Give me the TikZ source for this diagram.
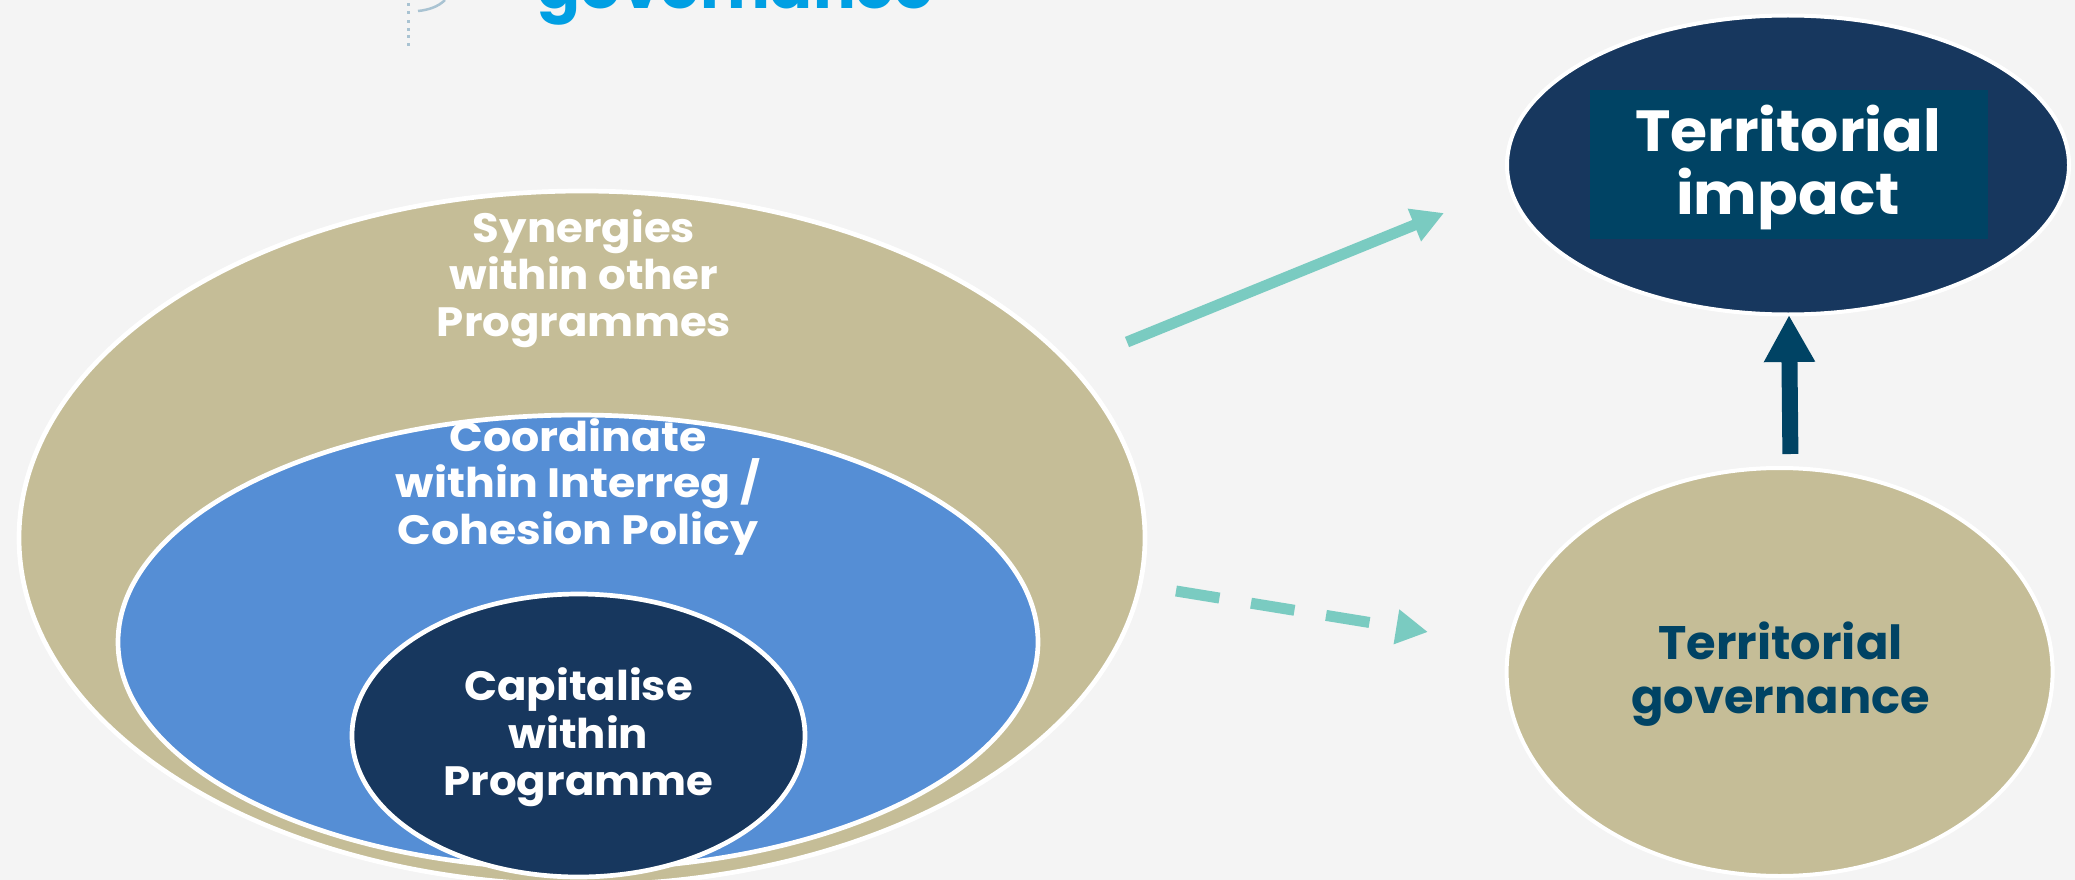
\documentclass[tikz,border=0pt]{standalone}
\usepackage{fontspec}
\setmainfont{Poppins}
\usetikzlibrary{shapes.geometric,arrows.meta}
\definecolor{bgc}{HTML}{F4F4F4}
\definecolor{khaki}{HTML}{C5BD97}
\definecolor{midblue}{HTML}{558ED5}
\definecolor{navy}{HTML}{17375E}
\definecolor{tealarrow}{HTML}{7ACBC1}
\definecolor{deepteal}{HTML}{004364}
\definecolor{logocyan}{HTML}{009FE3}
\definecolor{logofade}{HTML}{A9C3D2}
\newcommand{\labfont}[3]{\bfseries\fontsize{#1}{#2}\selectfont\addfontfeature{FakeStretch=#3}}
\tikzset{
  oval/.style={ellipse,draw=white,line width=4.7pt,inner sep=0pt,outer sep=0pt},
  lab/.style={align=center,inner sep=0pt,outer sep=0pt},
  tealline/.style={draw=tealarrow,line width=11pt,-{Triangle[length=32pt,width=33pt]}},
  darkline/.style={draw=deepteal,line width=16pt,-{Triangle[length=47pt,width=48pt]}},
  faint/.style={fill=logofade,inner sep=0pt,minimum width=3pt,minimum height=3pt}
}
\begin{document}
\begin{tikzpicture}[x=1pt,y=-1pt]
\useasboundingbox (0,0) rectangle (2075,880);
\fill[bgc] (0,0) rectangle (2075,880);
\begin{scope}
\clip (0,0) rectangle (2075,880);
% logo remnants at the top edge
\node[lab,text=logocyan,anchor=base,font=\labfont{61}{64}{1.04}] (logotext) at (735.5,9) {governance};
\node[faint] (f1) at (408,5) {};
\node[faint] (f2) at (408,13) {};
\node[faint] (f3) at (408,22) {};
\node[faint] (f4) at (408,30) {};
\node[faint] (f5) at (408,37) {};
\node[faint] (f6) at (408,45) {};
\draw[logofade,line width=2.5pt] (418,11) .. controls (428,10) and (438,7) .. (445,0);
% nested ellipses
\node[oval,fill=khaki,minimum width=1126pt,minimum height=694pt] (outer) at (582,538) {};
\node[oval,fill=midblue,minimum width=920pt,minimum height=454pt] (mid) at (578,642) {};
\node[oval,fill=navy,minimum width=453pt,minimum height=283pt] (inner) at (578.5,735.5) {};
\end{scope}
\node[oval,line width=4pt,fill=navy,minimum width=562pt,minimum height=299pt] (impact) at (1788,165) {};
\node[oval,line width=4pt,fill=khaki,minimum width=546pt,minimum height=408pt] (gov) at (1779.6,672) {};
\node[fill=deepteal,inner sep=0pt,outer sep=0pt,minimum width=398pt,minimum height=149pt] (impactbox) at (1789,164.5) {};
% labels
\node[lab,text=white,font=\labfont{41}{47}{1.06}] (t1) at (584,279) {Synergies\\within other\\Programmes};
\node[lab,text=white,font=\labfont{41}{46.5}{1.08}] (t2) at (578,487) {Coordinate\\within Interreg /\\Cohesion Policy};
\node[lab,text=white,font=\labfont{41}{47.5}{1.06}] (t3) at (578.5,737.5) {Capitalise\\within\\Programme};
\node[lab,text=white,font=\labfont{58}{63}{1.035}] (t4) at (1788,167.5) {Territorial\\impact};
\node[lab,text=deepteal,font=\labfont{47}{54}{1.02}] (t5) at (1780.5,674.5) {Territorial\\governance};
% connector ends
\coordinate (a1s) at (1127,342);
\coordinate (a1e) at (1444,213);
\coordinate (a2s) at (1176,591);
\coordinate (a2e) at (1428,632);
\coordinate (a3s) at (1790.4,454);
\coordinate (a3e) at (1789,315);
\draw[tealline] (a1s) -- (a1e);
\draw[tealline,dash pattern=on 44pt off 32pt] (a2s) -- (a2e);
\draw[darkline] (a3s) -- (a3e);
\end{tikzpicture}
\end{document}
